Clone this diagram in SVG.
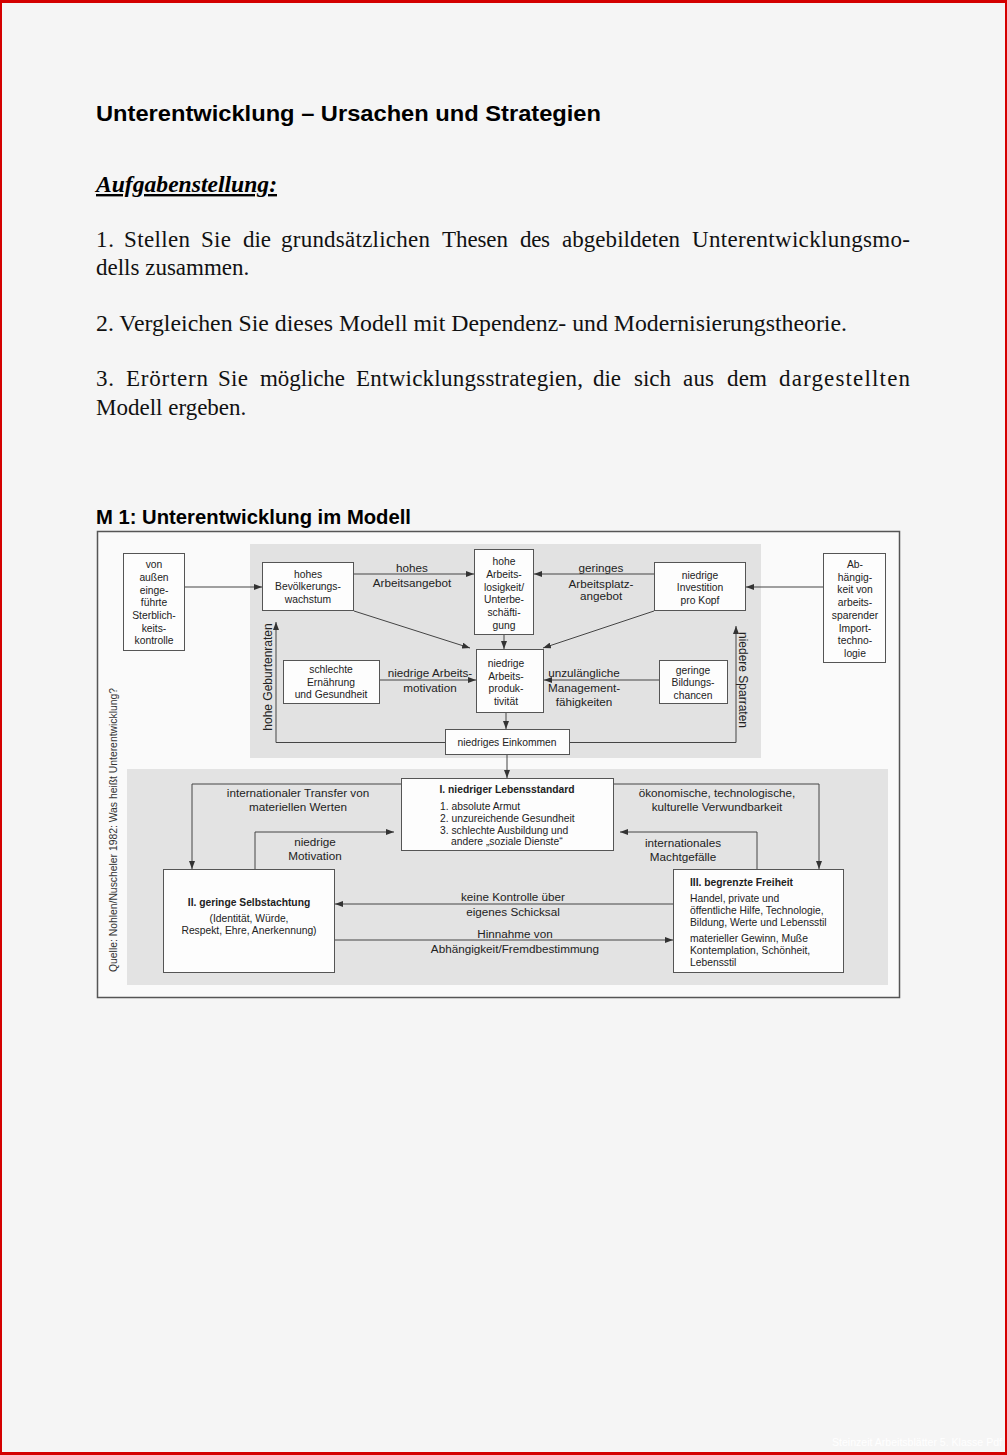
<svg xmlns="http://www.w3.org/2000/svg" width="1007" height="1455" viewBox="0 0 1007 1455">
<defs>
<marker id="ah" markerUnits="userSpaceOnUse" markerWidth="8" markerHeight="6" refX="8" refY="3" orient="auto">
<path d="M0,0 L8,3 L0,6 z" fill="#333"/>
</marker>
<style>
.pg{font-family:"Liberation Serif","Times New Roman",serif;font-size:23px;fill:#111}
.hd{font-family:"Liberation Sans",Arial,sans-serif;font-weight:bold;fill:#000}
.bx{fill:#fdfdfd;stroke:#555;stroke-width:1}
.t{font-family:"Liberation Sans",Arial,sans-serif;font-size:10.3px;fill:#222;text-anchor:middle}
.tl{font-family:"Liberation Sans",Arial,sans-serif;font-size:10.3px;fill:#222}
.b{font-weight:bold}
.lb{font-family:"Liberation Sans",Arial,sans-serif;font-size:11.7px;fill:#222;text-anchor:middle}
.c{fill:none;stroke:#444;stroke-width:1}
.ca{fill:none;stroke:#444;stroke-width:1;marker-end:url(#ah)}
</style>
</defs>
<rect x="0" y="0" width="1007" height="1455" fill="#f5f5f5"/>
<rect x="0" y="0" width="1007" height="3" fill="#d40000"/>
<rect x="0" y="1452" width="1007" height="3" fill="#d40000"/>
<rect x="0" y="0" width="2" height="1455" fill="#d40000"/>
<rect x="1005" y="0" width="2" height="1455" fill="#d40000"/>

<text class="hd" x="96" y="121" font-size="22" textLength="505" lengthAdjust="spacingAndGlyphs">Unterentwicklung – Ursachen und Strategien</text>
<text x="96" y="192" font-family="Liberation Serif,'Times New Roman',serif" font-size="24" font-weight="bold" font-style="italic" text-decoration="underline" fill="#000" textLength="181" lengthAdjust="spacingAndGlyphs">Aufgabenstellung:</text>

<g class="pg">
<text x="96" y="247" textLength="18">1.</text>
<text x="124" y="247" textLength="66">Stellen</text>
<text x="201" y="247" textLength="30">Sie</text>
<text x="243" y="247" textLength="28">die</text>
<text x="281" y="247" textLength="149">grundsätzlichen</text>
<text x="442" y="247" textLength="66">Thesen</text>
<text x="520" y="247" textLength="30">des</text>
<text x="562" y="247" textLength="118">abgebildeten</text>
<text x="692" y="247" textLength="218">Unterentwicklungsmo-</text>
<text x="96" y="275">dells zusammen.</text>
<text x="96" y="331" textLength="751" lengthAdjust="spacingAndGlyphs">2. Vergleichen Sie dieses Modell mit Dependenz- und Modernisierungstheorie.</text>
<text x="96" y="386" textLength="18">3.</text>
<text x="126" y="386" textLength="82">Erörtern</text>
<text x="218" y="386" textLength="30">Sie</text>
<text x="260" y="386" textLength="85">mögliche</text>
<text x="356" y="386" textLength="227">Entwicklungsstrategien,</text>
<text x="593" y="386" textLength="28">die</text>
<text x="634" y="386" textLength="37">sich</text>
<text x="683" y="386" textLength="31">aus</text>
<text x="727" y="386" textLength="40">dem</text>
<text x="779" y="386" textLength="131">dargestellten</text>
<text x="96" y="415">Modell ergeben.</text>
</g>

<text class="hd" x="96" y="524" font-size="19.5" textLength="315" lengthAdjust="spacingAndGlyphs">M 1: Unterentwicklung im Modell</text>

<rect x="97.5" y="531.5" width="802" height="466" fill="#fafafa" stroke="#555" stroke-width="1.5"/>
<rect x="250" y="544" width="511" height="214" fill="#e2e2e2"/>
<rect x="127" y="769" width="761" height="216" fill="#e3e3e3"/>

<text transform="translate(117,972) rotate(-90)" font-family="Liberation Sans,Arial,sans-serif" font-size="10" fill="#333" textLength="284" lengthAdjust="spacingAndGlyphs">Quelle: Nohlen/Nuscheler 1982: Was heißt Unterentwicklung?</text>

<g id="connectors">
<line class="ca" x1="184" y1="587" x2="262" y2="587"/>
<line class="ca" x1="354" y1="574" x2="474" y2="574"/>
<line class="ca" x1="654" y1="574" x2="534" y2="574"/>
<line class="ca" x1="823" y1="587" x2="746" y2="587"/>
<line class="ca" x1="504" y1="635" x2="504" y2="649"/>
<line class="ca" x1="354" y1="611" x2="470" y2="648"/>
<line class="ca" x1="654" y1="611" x2="543" y2="648"/>
<line class="ca" x1="380" y1="680" x2="476" y2="680"/>
<line class="ca" x1="659" y1="680" x2="544" y2="680"/>
<line class="ca" x1="506" y1="713" x2="506" y2="729"/>
<polyline class="ca" points="445,742.5 276,742.5 276,622"/>
<polyline class="ca" points="569,742.5 736,742.5 736,626"/>
<line class="ca" x1="507" y1="754" x2="507" y2="778"/>
<polyline class="ca" points="401,784 192,784 192,869"/>
<polyline class="ca" points="255,869 255,832 394,832"/>
<polyline class="ca" points="613,784 819,784 819,869"/>
<polyline class="ca" points="757,869 757,832 620,832"/>
<line class="ca" x1="673" y1="904" x2="335" y2="904"/>
<line class="ca" x1="335" y1="940" x2="673" y2="940"/>

<g class="lb">
<text x="412" y="572">hohes</text>
<text x="412" y="587">Arbeitsangebot</text>
<text x="601" y="572">geringes</text>
<text x="601" y="588">Arbeitsplatz-</text>
<text x="601" y="600">angebot</text>
<text x="430" y="677">niedrige Arbeits-</text>
<text x="430" y="692">motivation</text>
<text x="584" y="677">unzulängliche</text>
<text x="584" y="692">Management-</text>
<text x="584" y="706">fähigkeiten</text>
<text transform="translate(272,677) rotate(-90)" font-size="12">hohe Geburtenraten</text>
<text transform="translate(739,680) rotate(90)" font-size="12">niedere Sparraten</text>
<text x="298" y="797">internationaler Transfer von</text>
<text x="298" y="811">materiellen Werten</text>
<text x="315" y="846">niedrige</text>
<text x="315" y="860">Motivation</text>
<text x="717" y="797">ökonomische, technologische,</text>
<text x="717" y="811">kulturelle Verwundbarkeit</text>
<text x="683" y="847">internationales</text>
<text x="683" y="861">Machtgefälle</text>
<text x="513" y="901">keine Kontrolle über</text>
<text x="513" y="916">eigenes Schicksal</text>
<text x="515" y="938">Hinnahme von</text>
<text x="515" y="953">Abhängigkeit/Fremdbestimmung</text>
</g>
</g>

<g id="n-sterblichkeit">
<rect class="bx" x="123.5" y="553.5" width="61" height="97"/>
<text class="t"><tspan x="154" y="568">von</tspan><tspan x="154" y="581">außen</tspan><tspan x="154" y="594">einge-</tspan><tspan x="154" y="606">führte</tspan><tspan x="154" y="619">Sterblich-</tspan><tspan x="154" y="632">keits-</tspan><tspan x="154" y="644">kontrolle</tspan></text>
</g>
<g id="n-bevoelkerung">
<rect class="bx" x="262.5" y="562.5" width="91" height="48"/>
<text class="t"><tspan x="308" y="578">hohes</tspan><tspan x="308" y="590">Bevölkerungs-</tspan><tspan x="308" y="603">wachstum</tspan></text>
</g>
<g id="n-arbeitslosigkeit">
<rect class="bx" x="474.5" y="549.5" width="59" height="85"/>
<text class="t"><tspan x="504" y="565">hohe</tspan><tspan x="504" y="578">Arbeits-</tspan><tspan x="504" y="591">losigkeit/</tspan><tspan x="504" y="603">Unterbe-</tspan><tspan x="504" y="616">schäfti-</tspan><tspan x="504" y="629">gung</tspan></text>
</g>
<g id="n-investition">
<rect class="bx" x="654.5" y="562.5" width="91" height="48"/>
<text class="t"><tspan x="700" y="579">niedrige</tspan><tspan x="700" y="591">Investition</tspan><tspan x="700" y="604">pro Kopf</tspan></text>
</g>
<g id="n-importtechnologie">
<rect class="bx" x="823.5" y="553.5" width="62" height="109"/>
<text class="t"><tspan x="855" y="568">Ab-</tspan><tspan x="855" y="581">hängig-</tspan><tspan x="855" y="593">keit von</tspan><tspan x="855" y="606">arbeits-</tspan><tspan x="855" y="619">sparender</tspan><tspan x="855" y="632">Import-</tspan><tspan x="855" y="644">techno-</tspan><tspan x="855" y="657">logie</tspan></text>
</g>
<g id="n-produktivitaet">
<rect class="bx" x="476.5" y="649.5" width="67" height="63"/>
<text class="t"><tspan x="506" y="667">niedrige</tspan><tspan x="506" y="680">Arbeits-</tspan><tspan x="506" y="692">produk-</tspan><tspan x="506" y="705">tivität</tspan></text>
</g>
<g id="n-ernaehrung">
<rect class="bx" x="283.5" y="660.5" width="96" height="43"/>
<text class="t"><tspan x="331" y="673">schlechte</tspan><tspan x="331" y="686">Ernährung</tspan><tspan x="331" y="698">und Gesundheit</tspan></text>
</g>
<g id="n-bildung">
<rect class="bx" x="659.5" y="660.5" width="68" height="43"/>
<text class="t"><tspan x="693" y="674">geringe</tspan><tspan x="693" y="686">Bildungs-</tspan><tspan x="693" y="699">chancen</tspan></text>
</g>
<g id="n-einkommen">
<rect class="bx" x="445.5" y="729.5" width="124" height="25"/>
<text class="t" x="507" y="746">niedriges Einkommen</text>
</g>

<g id="n-lebensstandard">
<rect class="bx" x="401.5" y="778.5" width="212" height="72"/>
<text class="t b" x="507" y="793">I. niedriger Lebensstandard</text>
<text class="tl"><tspan x="440" y="810">1. absolute Armut</tspan><tspan x="440" y="822">2. unzureichende Gesundheit</tspan><tspan x="440" y="834">3. schlechte Ausbildung und</tspan><tspan x="451" y="845">andere „soziale Dienste“</tspan></text>
</g>
<g id="n-selbstachtung">
<rect class="bx" x="163.5" y="869.5" width="171" height="103"/>
<text class="t b" x="249" y="906">II. geringe Selbstachtung</text>
<text class="t"><tspan x="249" y="922">(Identität, Würde,</tspan><tspan x="249" y="934">Respekt, Ehre, Anerkennung)</tspan></text>
</g>
<g id="n-freiheit">
<rect class="bx" x="673.5" y="869.5" width="170" height="103"/>
<text class="tl b" x="690" y="886">III. begrenzte Freiheit</text>
<text class="tl"><tspan x="690" y="902">Handel, private und</tspan><tspan x="690" y="914">öffentliche Hilfe, Technologie,</tspan><tspan x="690" y="926">Bildung, Werte und Lebensstil</tspan><tspan x="690" y="942">materieller Gewinn, Muße</tspan><tspan x="690" y="954">Kontemplation, Schönheit,</tspan><tspan x="690" y="966">Lebensstil</tspan></text>
</g>

<text x="1002" y="1446" text-anchor="end" font-family="Liberation Sans,Arial,sans-serif" font-size="10" fill="#ffffff" textLength="170" lengthAdjust="spacingAndGlyphs">Steinzeit Arbeitsblätter 5. Klasse Pdf</text>
</svg>
